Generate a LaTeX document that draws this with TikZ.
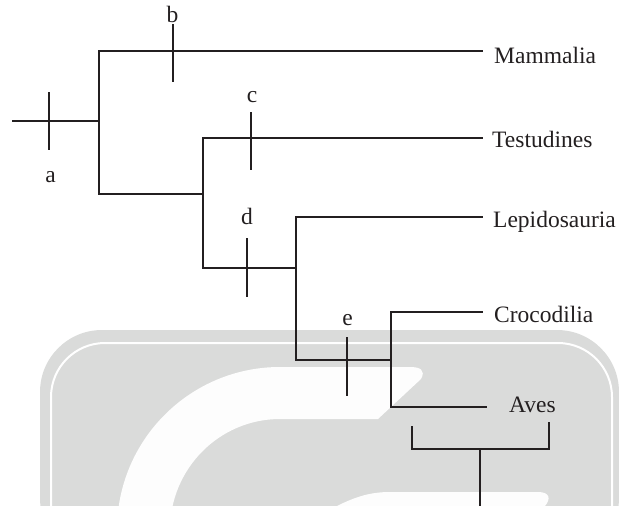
\documentclass[tikz,border=0pt]{standalone}
\usepackage{fontspec}
\setmainfont{Liberation Serif}
\definecolor{wmgray}{HTML}{DADBDA}
\definecolor{wmwhite}{HTML}{FDFDFD}
\definecolor{ink}{HTML}{231F20}
\begin{document}
\begin{tikzpicture}[x=1pt,y=-1pt,
  branch/.style={draw=ink,line width=2.9pt,line join=miter},
  tickmark/.style={draw=ink,line width=2.9pt},
  taxon/.style={anchor=base west,inner sep=0pt,text=ink,font=\fontsize{23.5}{28}\selectfont},
  charlabel/.style={anchor=base,inner sep=0pt,text=ink,font=\fontsize{23.5}{28}\selectfont}]
\useasboundingbox (0,0) rectangle (619,506);
% watermark
\begin{scope}
\clip (0,0) rectangle (619,506);
\fill[wmgray,rounded corners=62pt] (40,560) -- (40,330) -- (619,330) -- (619,560) -- cycle;
\draw[white,line width=2pt,rounded corners=54pt] (51,560) -- (51,343) -- (612,343) -- (612,560);
% C band
\fill[wmwhite] (117,540) -- (117,530) .. controls (117,440) and (190,367) .. (280,367)
  -- (410,367) .. controls (420,367) and (426,370) .. (421,379)
  -- (378,419) -- (280,419) .. controls (219,419) and (170,469) .. (170,530) -- (170,540) -- cycle;
\fill[wmwhite] (330,515) -- (337,506) .. controls (355,497) and (370,492) .. (390,492)
  -- (538,492) .. controls (550,492) and (551,499) .. (545,506) -- (545,515) -- cycle;
\end{scope}
% tree nodes
\coordinate (root) at (12,121);
\coordinate (n1) at (99,121);
\coordinate (n2) at (203,194);
\coordinate (n3) at (296,268);
\coordinate (n4) at (391,360);
\coordinate (tmam) at (483,51);
\coordinate (ttes) at (483,138);
\coordinate (tlep) at (483,217);
\coordinate (tcro) at (483,312);
\coordinate (tave) at (487,407);
\draw[branch] (root) -- (n1);
\draw[branch] (n1) |- (tmam);
\draw[branch] (n1) |- (n2);
\draw[branch] (n2) |- (ttes);
\draw[branch] (n2) |- (n3);
\draw[branch] (n3) |- (tlep);
\draw[branch] (n3) |- (n4);
\draw[branch] (n4) |- (tcro);
\draw[branch] (n4) |- (tave);
% character ticks
\coordinate (a1) at (49,92);  \coordinate (a2) at (49,150);
\coordinate (b1) at (173,24); \coordinate (b2) at (173,82);
\coordinate (c1) at (251,112);\coordinate (c2) at (251,170);
\coordinate (d1) at (247,238);\coordinate (d2) at (247,297);
\coordinate (e1) at (347,337);\coordinate (e2) at (347,396);
\draw[tickmark] (a1) -- (a2);
\draw[tickmark] (b1) -- (b2);
\draw[tickmark] (c1) -- (c2);
\draw[tickmark] (d1) -- (d2);
\draw[tickmark] (e1) -- (e2);
\node[charlabel] (la) at (50.5,182) {a};
\node[charlabel] (lb) at (172.5,22) {b};
\node[charlabel] (lc) at (252,102) {c};
\node[charlabel] (ld) at (247,224) {d};
\node[charlabel] (le) at (347.5,325) {e};
% taxa
\node[taxon] (mam) at (494,63) {Mammalia};
\node[taxon] (tes) at (492,147) {Testudines};
\node[taxon] (lep) at (493,227) {Lepidosauria};
\node[taxon] (cro) at (494,322) {Crocodilia};
\node[taxon] (ave) at (509,412) {Aves};
% bracket
\coordinate (bl) at (412,426);
\coordinate (br) at (549,422);
\coordinate (bm) at (480,449);
\coordinate (bs) at (480,512);
\draw[branch] (bl) |- (bm) -| (br);
\draw[branch] (bm) -- (bs);
\end{tikzpicture}
\end{document}
